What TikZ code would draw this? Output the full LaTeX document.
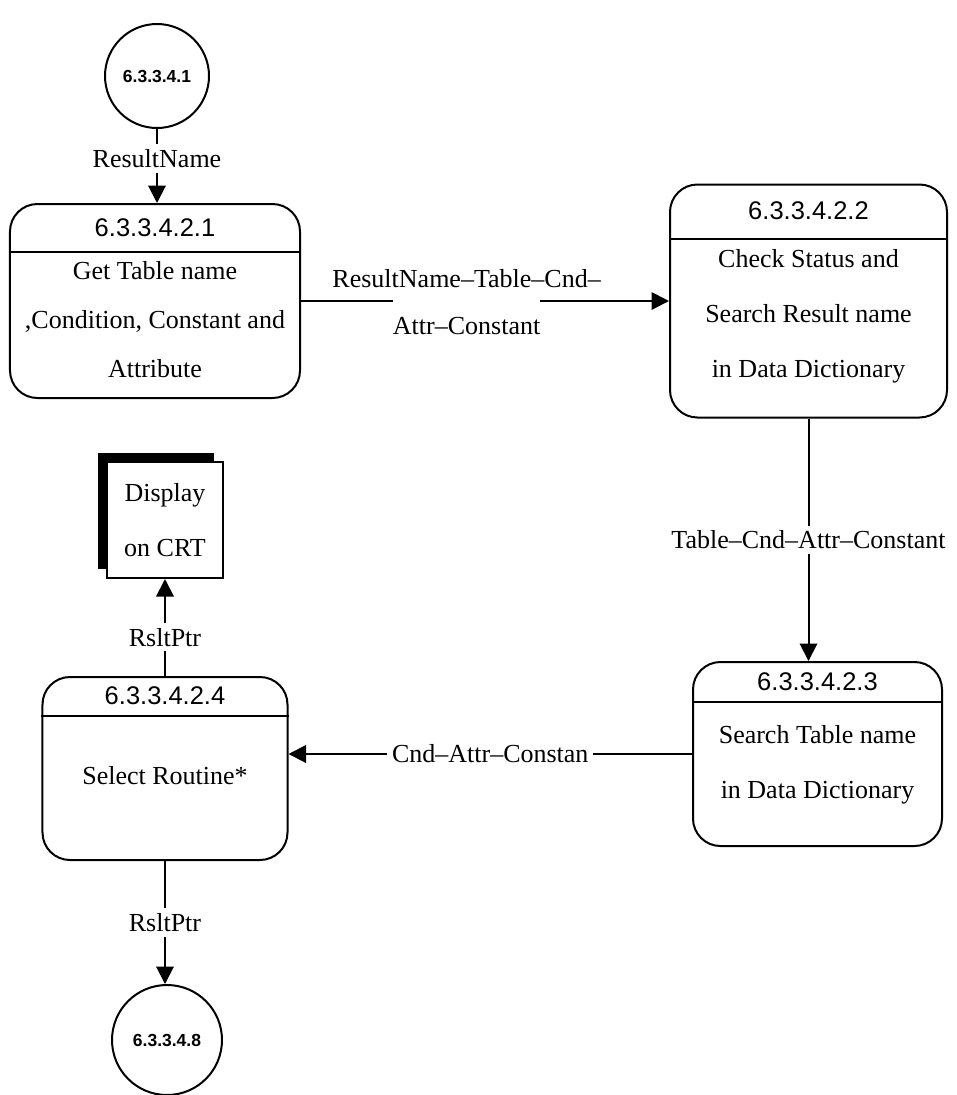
\documentclass[tikz,border=0pt]{standalone}
\usepackage{fontspec}
\setmainfont{Liberation Serif}
\newfontfamily\headfont{Liberation Sans}
\usetikzlibrary{positioning}
\usetikzlibrary{arrows.meta}
\usetikzlibrary{shadows}
\tikzset{
	proc/.style={draw, line width=0.8pt, rounded corners=11pt},
	head/.style={inner sep=0pt, font=\headfont\fontsize{10.2}{12}\selectfont},
	body/.style={align=center, inner sep=2pt, font=\fontsize{10.4}{22}\selectfont},
	store/.style={circle, draw, line width=0.8pt, font=\headfont\bfseries\fontsize{7}{8}\selectfont},
	crt/.style={draw, fill=white, line width=0.8pt, align=center, font=\fontsize{10.4}{22}\selectfont,
		general shadow={fill=black, shadow xshift=-3.6pt, shadow yshift=3.6pt}},
	lbl/.style={fill=white, inner sep=2pt, font=\fontsize{10.4}{13}\selectfont},
	flow/.style={line width=0.8pt, -{Triangle[length=7pt,width=7pt]}}
}

\begin{document}
\begin{tikzpicture}[x=0.4pt, y=-0.4pt]
	\useasboundingbox (0,0) rectangle (957,1095);
	
	% Top row
	\node [store, minimum size=41.6pt] at (157,76) (1in) {6.3.3.4.1};
	\node [proc, minimum width=116pt, minimum height=77.6pt] at (155,301) (2get) {};
	\node [head, minimum height=19.2pt, below=0pt of 2get.north] (2gethead) {6.3.3.4.2.1};
	\node [body, font=\fontsize{10.4}{19.6}\selectfont, below=1.6pt of 2gethead] (2getbody) {Get Table name\\,Condition, Constant and\\Attribute};
	\node [proc, minimum width=110.8pt, minimum height=93.2pt] at (808.5,301) (2check) {};
	\node [head, minimum height=21.6pt, below=0pt of 2check.north] (2checkhead) {6.3.3.4.2.2};
	\node [body, below=2pt of 2checkhead] (2checkbody) {Check Status and\\Search Result name\\in Data Dictionary};
	
	% Bottom row
	\node [proc, minimum width=99.6pt, minimum height=73.6pt] at (817.5,754) (3search) {};
	\node [head, minimum height=16pt, below=0pt of 3search.north] (3searchhead) {6.3.3.4.2.3};
	\node [body, below=7pt of 3searchhead] (3searchbody) {Search Table name\\in Data Dictionary};
	\node [proc, minimum width=98pt, minimum height=73.2pt] at (165,768.5) (3select) {};
	\node [head, minimum height=15.6pt, below=0pt of 3select.north] (3selecthead) {6.3.3.4.2.4};
	\node [body, below=18pt of 3selecthead] (3selectbody) {Select Routine*};
	\node [crt, minimum width=46pt, minimum height=46.4pt] at (165,520) (3crt) {Display\\on CRT};
	\node [store, minimum size=44pt] at (167,1040) (4out) {6.3.3.4.8};
	
	% Header lines
	\draw [line width=0.8pt] (2get.west |- 2gethead.south) -- (2get.east |- 2gethead.south);
	\draw [line width=0.8pt] (2check.west |- 2checkhead.south) -- (2check.east |- 2checkhead.south);
	\draw [line width=0.8pt] (3search.west |- 3searchhead.south) -- (3search.east |- 3searchhead.south);
	\draw [line width=0.8pt] (3select.west |- 3selecthead.south) -- (3select.east |- 3selecthead.south);
	
	% Connections
	\draw [flow] (1in) -- node [lbl, pos=0.4] {ResultName} (1in |- 2get.north);
	\draw [flow] (2get) -- node [pos=0.45, yshift=8.8pt, font=\fontsize{10.4}{13}\selectfont] {ResultName--Table--Cnd--}
		node [lbl, pos=0.45, yshift=-10pt, inner xsep=0pt, inner ysep=9pt] {Attr--Constant} (2check);
	\draw [flow] (2check) -- node [lbl] {Table--Cnd--Attr--Constant} (2check |- 3search.north);
	\draw [flow] (3search) -- node [lbl] {Cnd--Attr--Constan} (3search -| 3select.east);
	\draw [flow] (3select) -- node [lbl, pos=0.4] {RsltPtr} (3crt);
	\draw [flow] (3select) -- node [lbl] {RsltPtr} (3select.south |- 4out.north);
	
\end{tikzpicture}
\end{document}
